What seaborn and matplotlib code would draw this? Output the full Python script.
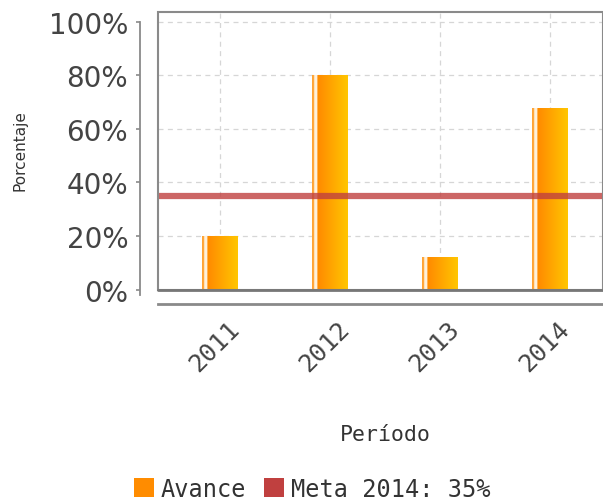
import matplotlib
matplotlib.use("Agg")
import matplotlib.pyplot as plt
import seaborn as sns
import numpy as np
import pandas as pd
from matplotlib.patches import Rectangle
from matplotlib.colors import to_rgb
import matplotlib.transforms as mtransforms

periods = ["2011", "2012", "2013", "2014"]
avance = [20, 80, 12, 68]
meta = 35
yticks = [0, 20, 40, 60, 80, 100]
ytick_labels = ["0%", "20%", "40%", "60%", "80%", "100%"]
legend_labels = ["Avance", "Meta 2014: 35%"]

sns.set_theme(style="white")
plt.rcParams['font.family'] = ['DejaVu Sans']

W, H = 603, 502
L, R, B, T = 158, 603, 290.5, 13
fig = plt.figure(figsize=(W / 100, H / 100), dpi=100)
ax = fig.add_axes([L / W, 1 - B / H, (R - L) / W, (B - T) / H])

df = pd.DataFrame({"Periodo": periods, "Avance": avance})
sns.barplot(data=df, x="Periodo", y="Avance", ax=ax, color="#ff9900", width=0.327,
            saturation=1, edgecolor="none", zorder=3)

XL = (-0.5636, -0.5636 + (R - L) / 110)
YL = (0, 103.7)

# gradient fill
n = 200
cols = np.zeros((1, n, 3))
c_left = np.array(to_rgb("#ff8a00"))
c_right = np.array(to_rgb("#ffc600"))
for i in range(n):
    f = i / (n - 1)
    if f < 0.06:
        cols[0, i] = to_rgb("#ffa436")
    elif f < 0.15:
        cols[0, i] = to_rgb("#fff2dc")
    else:
        t = (f - 0.15) / 0.85
        cols[0, i] = c_left * (1 - t) + c_right * t
for p in ax.patches:
    x0, y0 = p.get_x(), p.get_y()
    w, h = p.get_width(), p.get_height()
    im = ax.imshow(cols, extent=[x0, x0 + w, y0, y0 + h], aspect="auto", zorder=3,
                   interpolation="bilinear")
    im.set_clip_path(p)
    p.set_alpha(0)
ax.set_ylim(*YL)
ax.set_xlim(*XL)

# target line
ax.axhline(meta, color="#c0403f", lw=4.5, alpha=0.8, zorder=4)

# grid
ax.set_yticks(yticks)
ax.set_yticklabels(ytick_labels)
ax.grid(True, axis="both", color="#d6d6d6", linestyle=(0, (4, 3.5)), lw=0.9, zorder=0)

# frame
for s in ax.spines.values():
    s.set_visible(False)
ax.add_patch(Rectangle((0, 0), 1, 1, transform=ax.transAxes, fill=False,
                       edgecolor="#8a8a8a", lw=1.5, clip_on=False, zorder=5))
ax.plot([0, 1], [0, 0], transform=ax.transAxes, color="#777777", lw=2.0, clip_on=False, zorder=5)

ax.spines["left"].set_visible(True)
ax.spines["left"].set_position(("outward", 13))
ax.spines["left"].set_bounds(-2, 100)
ax.spines["left"].set_color("#8a8a8a")
ax.spines["left"].set_linewidth(1.3)
ax.spines["bottom"].set_visible(True)
ax.spines["bottom"].set_position(("outward", 10.5))
ax.spines["bottom"].set_color("#8a8a8a")
ax.spines["bottom"].set_linewidth(2)

ax.tick_params(axis="y", left=True, length=3, width=1.2, color="#8a8a8a", pad=5.5,
               labelsize=20, labelcolor="#444444")
ax.tick_params(axis="x", bottom=False, length=0, pad=0, labelsize=18, labelcolor="#444444")
offset = mtransforms.ScaledTranslation(16 / 100, -21 / 100, fig.dpi_scale_trans)
for lab in ax.get_xticklabels():
    lab.set_rotation(45)
    lab.set_rotation_mode("anchor")
    lab.set_ha("right")
    lab.set_va("center")
    lab.set_fontfamily("DejaVu Sans Mono")
    lab.set_transform(lab.get_transform() + offset)

ax.set_xlabel("Período", fontsize=15.5, color="#333333", fontfamily="DejaVu Sans Mono")
ax.xaxis.set_label_coords((385 - L) / (R - L), -(435 - B) / (B - T))
ax.xaxis.label.set_va("center")
ax.set_ylabel("Porcentaje", fontsize=11, color="#333333")
ax.yaxis.set_label_coords(-(L - 20) / (R - L), 0.505)
ax.yaxis.label.set_va("center")

# legend
handles = [Rectangle((0, 0), 1, 1, facecolor="#ff8c00", edgecolor="none"),
           Rectangle((0, 0), 1, 1, facecolor="#c0403f", edgecolor="none")]
fig.legend(handles, legend_labels, loc="center", bbox_to_anchor=(312 / W, 1 - 490 / H),
           ncol=2, frameon=False, handlelength=0.85, handleheight=0.85,
           handletextpad=0.3, columnspacing=0.72, labelcolor="#333333",
           prop={"family": "DejaVu Sans Mono", "size": 17})

fig.savefig("out.png", dpi=100)
